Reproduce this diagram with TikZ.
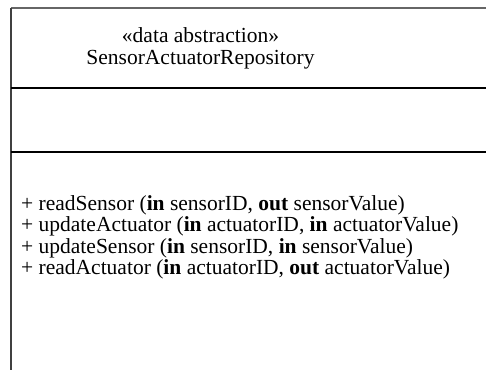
\documentclass[tikz,border=0pt]{standalone}
\usepackage{fontspec}
\setmainfont{Liberation Serif}
\begin{document}
\begin{tikzpicture}[x=1pt,y=-1pt,
  txt/.style={inner sep=0pt,font=\fontsize{21.5}{24}\selectfont},
  op/.style={txt,anchor=base west},
  frame/.style={line width=1.6pt,draw=black!75},
  sep/.style={line width=1.6pt,draw=black}]
\useasboundingbox (0,0) rectangle (486,370);
% class outline (left and top edges)
\coordinate (tl) at (11,8);
\coordinate (tr) at (486,8);
\coordinate (bl) at (11,370);
\draw[frame,draw=black!60] (tl) -- (tr);
\draw[frame] (tl) -- (bl);
% compartment separators
\coordinate (s1l) at (11,88);
\coordinate (s1r) at (486,88);
\coordinate (s2l) at (11,152);
\coordinate (s2r) at (486,152);
\draw[sep] (s1l) -- (s1r);
\draw[sep] (s2l) -- (s2r);
% name compartment
\node[txt,anchor=base] (stereo) at (200.5,42.5) {«data abstraction»};
\node[txt,anchor=base] (name) at (200.5,64.5) {SensorActuatorRepository};
% operations compartment
\node[op] (op1) at (21,210) {+ readSensor (\textbf{in} sensorID, \textbf{out} sensorValue)};
\node[op] (op2) at (21,231.5) {+ updateActuator (\textbf{in} actuatorID, \textbf{in} actuatorValue)};
\node[op] (op3) at (21,253) {+ updateSensor (\textbf{in} sensorID, \textbf{in} sensorValue)};
\node[op] (op4) at (21,274.5) {+ readActuator (\textbf{in} actuatorID, \textbf{out} actuatorValue)};
\end{tikzpicture}
\end{document}
